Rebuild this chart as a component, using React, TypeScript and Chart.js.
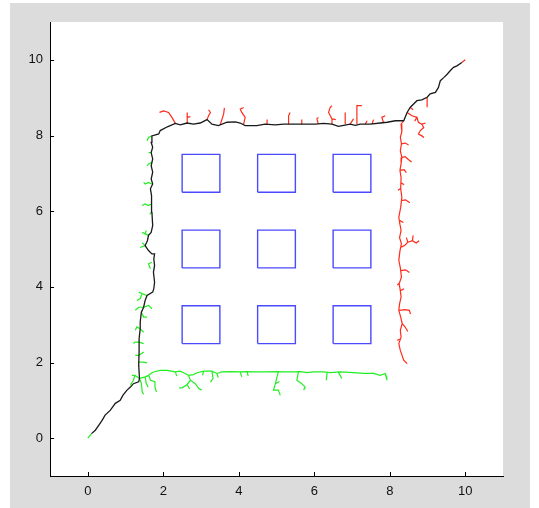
import React, { useEffect, useRef } from "react";
import { Chart, registerables } from "chart.js";

Chart.register(...registerables);

// ---- data ----
const X_TICKS = [0, 2, 4, 6, 8, 10];
const Y_TICKS = [0, 2, 4, 6, 8, 10];
const X_RANGE = [-1, 11];
const Y_RANGE = [-1, 11];

const OBSTACLE_CX = [3, 5, 7];
const OBSTACLE_CY = [3, 5, 7];
const OBSTACLE_SIDE = 1;

const BLACK_PATH: number[][] = [
  [0.1, 0.12], [0.2, 0.21], [0.29, 0.34], [0.38, 0.47], [0.46, 0.61], [0.6, 0.74], [0.73, 0.92],
  [0.86, 1.0], [0.93, 1.13], [1.04, 1.27], [1.13, 1.35], [1.21, 1.44], [1.35, 1.49], [1.37, 1.58],
  [1.35, 1.93], [1.36, 2.28], [1.36, 2.63], [1.39, 2.89], [1.39, 3.07], [1.42, 3.33], [1.48, 3.46],
  [1.52, 3.64], [1.57, 3.77], [1.72, 3.86], [1.75, 3.95], [1.77, 4.12], [1.74, 4.39], [1.77, 4.56],
  [1.75, 4.74], [1.77, 4.87], [1.7, 4.87], [1.61, 4.96], [1.52, 5.09], [1.58, 5.22], [1.61, 5.36],
  [1.68, 5.44], [1.72, 5.62], [1.7, 5.97], [1.68, 6.23], [1.7, 6.41], [1.66, 6.59], [1.72, 6.72],
  [1.68, 6.85], [1.72, 7.03], [1.68, 7.2], [1.72, 7.38], [1.68, 7.55], [1.72, 7.69], [1.68, 7.82],
  [1.7, 7.99], [1.88, 8.04], [1.92, 8.13], [2.11, 8.23], [2.32, 8.32], [2.45, 8.28], [2.63, 8.33],
  [2.8, 8.3], [2.98, 8.33], [3.16, 8.42], [3.29, 8.3], [3.46, 8.26], [3.69, 8.35], [3.91, 8.36],
  [4.04, 8.33], [4.17, 8.26], [4.48, 8.26], [4.7, 8.3], [4.97, 8.28], [5.19, 8.3], [5.54, 8.3],
  [5.81, 8.3], [6.03, 8.3], [6.25, 8.32], [6.47, 8.3], [6.64, 8.24], [6.78, 8.27], [6.95, 8.3],
  [7.09, 8.27], [7.22, 8.3], [7.48, 8.3], [7.75, 8.33], [7.93, 8.35], [8.15, 8.39], [8.37, 8.39],
  [8.46, 8.61], [8.54, 8.74], [8.72, 8.92], [8.85, 8.94], [8.99, 9.01], [9.07, 9.1], [9.21, 9.14],
  [9.29, 9.27], [9.34, 9.45], [9.43, 9.53], [9.52, 9.62], [9.6, 9.71], [9.69, 9.8], [9.78, 9.84],
  [9.91, 9.93],
];

const RED_BRANCHES: number[][][] = [
  [[9.91, 9.93], [10, 10]],
  [[8.37, 8.39], [8.3, 8.3], [8.32, 8.1], [8.28, 7.95], [8.31, 7.78], [8.28, 7.6], [8.32, 7.42],
   [8.3, 7.25], [8.27, 7.08], [8.3, 6.89], [8.29, 6.6], [8.32, 6.37], [8.29, 6.1], [8.24, 5.84],
   [8.27, 5.65], [8.3, 5.49], [8.26, 5.3], [8.31, 5.14], [8.27, 4.95], [8.24, 4.7], [8.28, 4.5],
   [8.31, 4.26], [8.25, 4.08], [8.28, 3.9], [8.3, 3.73], [8.26, 3.55], [8.24, 3.38], [8.29, 3.2],
   [8.33, 3.03], [8.28, 2.85], [8.3, 2.67], [8.24, 2.5], [8.28, 2.32], [8.37, 2.06], [8.46, 1.97]],
  [[8.31, 7.78], [8.41, 7.8], [8.5, 7.75]],
  [[8.32, 7.42], [8.41, 7.44], [8.5, 7.36], [8.58, 7.3]],
  [[8.27, 7.08], [8.38, 7.1], [8.44, 7.02]],
  [[8.29, 6.76], [8.38, 6.7]],
  [[8.3, 6.28], [8.42, 6.3], [8.53, 6.22]],
  [[8.27, 5.75], [8.36, 5.7]],
  [[8.31, 5.05], [8.4, 5.1], [8.48, 5.18], [8.6, 5.22], [8.7, 5.16], [8.78, 5.22]],
  [[8.6, 5.22], [8.62, 5.36]],
  [[8.48, 5.18], [8.44, 5.3]],
  [[8.29, 4.43], [8.42, 4.45], [8.52, 4.38]],
  [[8.28, 3.9], [8.38, 3.95]],
  [[8.25, 3.38], [8.4, 3.4], [8.52, 3.38], [8.55, 3.28]],
  [[8.33, 3.03], [8.4, 2.95], [8.48, 2.82]],
  [[8.29, 6.6], [8.22, 6.55]],
  [[8.26, 4.1], [8.2, 4.05]],
  [[8.26, 2.62], [8.2, 2.58]],
  [[8.46, 8.61], [8.59, 8.52], [8.72, 8.48], [8.76, 8.35], [8.85, 8.3], [8.9, 8.21], [8.81, 8.13],
   [8.76, 8.04], [8.85, 7.99], [8.91, 7.95]],
  [[8.72, 8.48], [8.66, 8.38]],
  [[8.85, 8.3], [8.95, 8.33]],
  [[8.99, 9.01], [8.99, 8.75]],
  [[8.54, 8.74], [8.62, 8.68]],
  [[2.32, 8.32], [2.23, 8.48], [2.14, 8.61], [2.01, 8.65], [1.9, 8.61]],
  [[2.63, 8.33], [2.63, 8.48], [2.64, 8.61]],
  [[2.63, 8.48], [2.72, 8.5]],
  [[3.16, 8.42], [3.2, 8.52], [3.25, 8.61], [3.2, 8.68]],
  [[3.51, 8.29], [3.56, 8.44], [3.6, 8.57], [3.62, 8.73]],
  [[4.13, 8.3], [4.17, 8.48], [4.08, 8.61], [4.04, 8.7], [4.13, 8.74]],
  [[4.75, 8.3], [4.75, 8.42]],
  [[5.32, 8.3], [5.32, 8.52], [5.36, 8.61]],
  [[5.67, 8.3], [5.67, 8.42]],
  [[6.11, 8.3], [6.07, 8.44], [6.11, 8.48]],
  [[6.47, 8.3], [6.47, 8.44], [6.38, 8.61], [6.42, 8.74], [6.47, 8.79]],
  [[6.47, 8.44], [6.57, 8.42]],
  [[6.82, 8.3], [6.82, 8.61]],
  [[6.95, 8.3], [7.04, 8.44]],
  [[7.13, 8.3], [7.13, 8.79], [7.26, 8.79]],
  [[7.35, 8.3], [7.4, 8.39]],
  [[7.53, 8.3], [7.57, 8.42]],
  [[7.84, 8.33], [7.79, 8.48], [7.88, 8.52]],
];

const GREEN_BRANCHES: number[][][] = [
  [[0, 0], [0.1, 0.12]],
  [[1.7, 7.99], [1.61, 7.95], [1.57, 7.86]],
  [[1.68, 7.55], [1.61, 7.55]],
  [[1.7, 7.29], [1.61, 7.25], [1.57, 7.2]],
  [[1.7, 6.72], [1.61, 6.76], [1.52, 6.72], [1.48, 6.76]],
  [[1.68, 6.19], [1.61, 6.15], [1.52, 6.19], [1.44, 6.15]],
  [[1.7, 5.97], [1.64, 5.92]],
  [[1.61, 5.36], [1.52, 5.4], [1.44, 5.44]],
  [[1.52, 5.4], [1.55, 5.49]],
  [[1.52, 5.09], [1.44, 5.17]],
  [[1.52, 5.09], [1.39, 5.04]],
  [[1.7, 4.65], [1.61, 4.61], [1.66, 4.48]],
  [[1.57, 3.77], [1.44, 3.82], [1.35, 3.86]],
  [[1.44, 3.82], [1.39, 3.69], [1.3, 3.64]],
  [[1.48, 3.46], [1.35, 3.46], [1.26, 3.38]],
  [[1.48, 3.46], [1.61, 3.51], [1.7, 3.42]],
  [[1.42, 3.33], [1.48, 3.2], [1.57, 3.2]],
  [[1.39, 2.89], [1.3, 2.94], [1.26, 2.85]],
  [[1.39, 2.89], [1.48, 2.8]],
  [[1.36, 2.54], [1.26, 2.54], [1.21, 2.5]],
  [[1.36, 2.54], [1.48, 2.5]],
  [[1.36, 2.19], [1.26, 2.19]],
  [[1.36, 2.19], [1.48, 2.28]],
  [[1.35, 2.01], [1.48, 2.01], [1.57, 1.99]],
  [[1.37, 1.58], [1.25, 1.66], [1.17, 1.66]],
  [[1.25, 1.66], [1.21, 1.53], [1.13, 1.4]],
  [[1.37, 1.58], [1.42, 1.45], [1.44, 1.24], [1.48, 1.16]],
  [[1.37, 1.58], [1.52, 1.62], [1.62, 1.66], [1.66, 1.53], [1.78, 1.49], [1.78, 1.35], [1.82, 1.22]],
  [[1.52, 1.62], [1.55, 1.45], [1.6, 1.35]],
  [[1.52, 1.62], [1.58, 1.64], [1.66, 1.7], [1.74, 1.75], [1.92, 1.79], [2.1, 1.79], [2.32, 1.75],
   [2.45, 1.77], [2.58, 1.71], [2.67, 1.66], [2.8, 1.68], [2.89, 1.73], [3.07, 1.77], [3.29, 1.77],
   [3.42, 1.71], [3.55, 1.75], [3.77, 1.76], [4.04, 1.75], [4.22, 1.76], [4.39, 1.75], [4.57, 1.75],
   [4.75, 1.75], [5.01, 1.76], [5.19, 1.75], [5.45, 1.75], [5.63, 1.76], [5.81, 1.73], [5.98, 1.75],
   [6.25, 1.75], [6.42, 1.73], [6.69, 1.75], [7.04, 1.73], [7.31, 1.71], [7.57, 1.71], [7.75, 1.66],
   [7.88, 1.71], [7.93, 1.58]],
  [[2.67, 1.66], [2.72, 1.53], [2.63, 1.42], [2.5, 1.33], [2.42, 1.33]],
  [[2.72, 1.53], [2.85, 1.44], [2.94, 1.31], [3.02, 1.27]],
  [[2.63, 1.42], [2.7, 1.3]],
  [[2.32, 1.75], [2.36, 1.64]],
  [[3.07, 1.77], [3.04, 1.66]],
  [[3.29, 1.77], [3.32, 1.58], [3.25, 1.48]],
  [[3.42, 1.71], [3.46, 1.6]],
  [[4.04, 1.75], [4.08, 1.62]],
  [[4.22, 1.76], [4.25, 1.64]],
  [[5.05, 1.76], [4.97, 1.44], [4.92, 1.27], [5.05, 1.27], [5.1, 1.13]],
  [[4.97, 1.44], [5.08, 1.5]],
  [[5.58, 1.75], [5.54, 1.53], [5.67, 1.44], [5.76, 1.35], [5.72, 1.27]],
  [[6.34, 1.74], [6.32, 1.53]],
  [[6.64, 1.74], [6.73, 1.58]],
  [[7.88, 1.71], [7.93, 1.53]],
];

// ---- helpers ----
function toSeries(branches: number[][][]) {
  const out: any[] = [];
  branches.forEach((b, i) => {
    if (i > 0) out.push({ x: NaN, y: null });
    b.forEach(([x, y]) => out.push({ x, y }));
  });
  return out;
}

function obstacleBranches() {
  const h = OBSTACLE_SIDE / 2;
  const res: number[][][] = [];
  OBSTACLE_CY.forEach((cy) =>
    OBSTACLE_CX.forEach((cx) => {
      res.push([
        [cx - h, cy - h], [cx + h, cy - h], [cx + h, cy + h], [cx - h, cy + h], [cx - h, cy - h],
      ]);
    })
  );
  return res;
}

const FONT = "'Liberation Sans', Arial, Helvetica, sans-serif";

const bgPlugin = {
  id: "bg",
  beforeDraw(chart: any) {
    const { ctx, chartArea } = chart;
    ctx.save();
    ctx.fillStyle = "#dcdcdc";
    ctx.fillRect(10, 3, 520, 505);
    ctx.fillStyle = "#ffffff";
    ctx.fillRect(chartArea.left, chartArea.top, chartArea.right - chartArea.left, chartArea.bottom - chartArea.top);
    ctx.restore();
  },
};

const tickPlugin = {
  id: "inticks",
  afterDraw(chart: any) {
    const { ctx, chartArea, scales } = chart;
    ctx.save();
    ctx.strokeStyle = "#000";
    ctx.lineWidth = 1;
    ctx.beginPath();
    X_TICKS.forEach((v) => {
      const px = Math.round(scales.x.getPixelForValue(v)) + 0.5;
      ctx.moveTo(px, chartArea.bottom);
      ctx.lineTo(px, chartArea.bottom - 4);
    });
    Y_TICKS.forEach((v) => {
      const py = Math.round(scales.y.getPixelForValue(v)) + 0.5;
      ctx.moveTo(chartArea.left, py);
      ctx.lineTo(chartArea.left + 4, py);
    });
    ctx.stroke();
    ctx.restore();
  },
};

export default function App() {
  const ref = useRef<HTMLCanvasElement | null>(null);
  useEffect(() => {
    if (!ref.current) return;
    const line = (data: any[], color: string, width: number, order: number) => ({
      data,
      showLine: true,
      borderColor: color,
      backgroundColor: color,
      borderWidth: width,
      pointRadius: 0,
      pointHoverRadius: 0,
      tension: 0,
      spanGaps: false,
      order,
    });
    const chart = new Chart(ref.current, {
      type: "scatter",
      data: {
        datasets: [
          line(BLACK_PATH.map(([x, y]) => ({ x, y })), "#1a1a1a", 1.3, 0),
          line(toSeries(RED_BRANCHES), "#ff2a1a", 1.2, 1),
          line(toSeries(GREEN_BRANCHES), "#22ee22", 1.2, 2),
          line(toSeries(obstacleBranches()), "#4a4aff", 1.4, 3),
        ] as any,
      },
      options: {
        responsive: false,
        maintainAspectRatio: false,
        animation: false,
        events: [],
        layout: { padding: { left: 0, right: 36, top: 22, bottom: 0 } },
        plugins: { legend: { display: false }, tooltip: { enabled: false } },
        scales: {
          x: {
            type: "linear",
            min: X_RANGE[0],
            max: X_RANGE[1],
            afterBuildTicks: (s: any) => {
              s.ticks = X_TICKS.map((v) => ({ value: v }));
            },
            afterFit: (s: any) => {
              s.height = 32;
            },
            grid: { display: false, drawTicks: false },
            border: { display: true, color: "#000", width: 1 },
            ticks: { color: "#111", font: { family: FONT, size: 13 }, padding: 8, maxRotation: 0 },
          },
          y: {
            type: "linear",
            min: Y_RANGE[0],
            max: Y_RANGE[1],
            afterBuildTicks: (s: any) => {
              s.ticks = Y_TICKS.map((v) => ({ value: v }));
            },
            afterFit: (s: any) => {
              s.width = 50;
            },
            grid: { display: false, drawTicks: false },
            border: { display: true, color: "#000", width: 1 },
            ticks: { color: "#111", font: { family: FONT, size: 13 }, padding: 7 },
          },
        },
      } as any,
      plugins: [bgPlugin, tickPlugin],
    });
    return () => chart.destroy();
  }, []);
  return (
    <div style={{ position: "fixed", left: 0, top: 0, width: 539, height: 508 }}>
      <canvas ref={ref} width={539} height={508} style={{ display: "block", width: 539, height: 508 }} />
    </div>
  );
}
